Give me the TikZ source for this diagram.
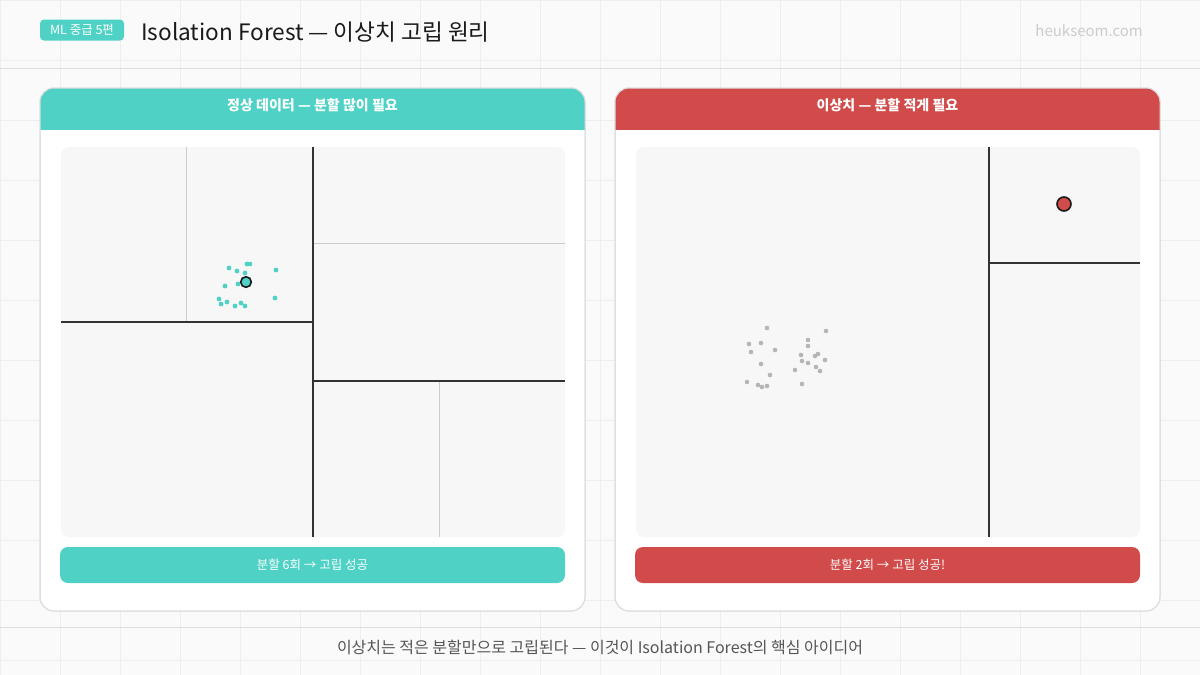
\documentclass[tikz,border=0pt]{standalone}
\usepackage{fontspec}
\setmainfont{Noto Sans CJK KR}
\definecolor{bgc}{HTML}{FAFAFA}
\definecolor{gridc}{HTML}{EEEEEE}
\definecolor{sepc}{HTML}{DDDDDD}
\definecolor{tealc}{HTML}{4FD1C5}
\definecolor{redc}{HTML}{D14B4B}
\definecolor{plotc}{HTML}{F7F7F8}
\definecolor{darkc}{HTML}{333333}
\definecolor{lightc}{HTML}{CCCCCC}
\definecolor{ptgrey}{HTML}{B5B5B5}
\definecolor{inkc}{HTML}{1A1A1A}
\definecolor{footc}{HTML}{555555}
\tikzset{
  panel/.style={draw=sepc, line width=1pt, fill=white, rounded corners=14pt},
  hardsplit/.style={draw=darkc, line width=1.5pt},
  softsplit/.style={draw=lightc, line width=1pt},
  bar/.style={rounded corners=8pt},
  htext/.style={text=white, font=\fontsize{14}{16}\selectfont\bfseries},
  btext/.style={text=white, font=\fontsize{12.5}{15}\selectfont},
  tdot/.style={fill=tealc},
  gdot/.style={fill=ptgrey},
}
\begin{document}
\begin{tikzpicture}[x=1pt,y=-1pt]
\useasboundingbox (0,0) rectangle (1200,675);
% background + grid
\fill[bgc] (0,0) rectangle (1200,675);
\foreach \gx in {0,60,...,1200} \draw[gridc, line width=0.8pt] (\gx,0) -- (\gx,675);
\foreach \gy in {0,60,...,660} \draw[gridc, line width=0.8pt] (0,\gy) -- (1200,\gy);
\draw[sepc, line width=1pt] (0,68) -- (1200,68);
\draw[sepc, line width=1pt] (0,627) -- (1200,627);
% header
\node[fill=tealc, rounded corners=4pt, text=white, font=\fontsize{12.5}{14}\selectfont, minimum width=84pt, minimum height=21pt, inner sep=0pt] (badge) at (82,30) {ML 중급 5편};
\node[anchor=west, text=inkc, font=\fontsize{22.6}{26}\selectfont, inner sep=0pt] (title) at (141,32) {Isolation Forest — 이상치 고립 원리};
\node[anchor=east, text=lightc, font=\fontsize{15}{18}\selectfont, inner sep=0pt] (site) at (1143,31) {heukseom.com};
% ---------- left panel ----------
\draw[panel] (40,88) rectangle (585,611);
\begin{scope}
\clip[rounded corners=14pt] (40,88) rectangle (585,611);
\fill[tealc] (40,88) rectangle (585,130);
\end{scope}
\draw[panel, fill=none] (40,88) rectangle (585,611);
\node[htext] (lhead) at (312.5,105) {정상 데이터 — 분할 많이 필요};
\fill[plotc, rounded corners=8pt] (61,147) rectangle (565,537);
\draw[softsplit] (186,147) -- (186,322);
\draw[softsplit] (313,243) -- (565,243);
\draw[softsplit] (439,381) -- (439,537);
\draw[hardsplit] (313,147) -- (313,537);
\draw[hardsplit] (61,322) -- (313,322);
\draw[hardsplit] (313,381) -- (565,381);
\foreach \px/\py in {229/268,237/271,247/264,250/264,245/273,276/270,225/286,238/284,219/299,221/304,227/302,235/306,241/303,245/306,275/298}
  \fill[tdot] (\px,\py) circle (2.4pt);
\draw[fill=tealc, draw=inkc, line width=1.6pt] (246,282) circle (5.3pt);
\node[fill=tealc, bar, minimum width=505pt, minimum height=36pt, inner sep=0pt] (lbar) at (312.5,565) {};
\node[btext] (lbartext) at (lbar) {분할 6회 → 고립 성공};
% ---------- right panel ----------
\draw[panel] (615,88) rectangle (1160,611);
\begin{scope}
\clip[rounded corners=14pt] (615,88) rectangle (1160,611);
\fill[redc] (615,88) rectangle (1160,130);
\end{scope}
\draw[panel, fill=none] (615,88) rectangle (1160,611);
\node[htext] (rhead) at (887.5,105) {이상치 — 분할 적게 필요};
\fill[plotc, rounded corners=8pt] (636,147) rectangle (1140,537);
\draw[hardsplit] (989,147) -- (989,537);
\draw[hardsplit] (989,263) -- (1140,263);
\foreach \px/\py in {767/328,749/344,761/343,751/352,775/350,761/364,770/375,747/382,758/385,762/387,767/386,826/331,808/340,808/346,801/355,802/361,808/363,815/356,818/354,825/360,816/367,820/371,795/370,802/384}
  \fill[gdot] (\px,\py) circle (2.3pt);
\draw[fill=redc, draw=inkc, line width=1.6pt] (1064,204) circle (7pt);
\node[fill=redc, bar, minimum width=505pt, minimum height=36pt, inner sep=0pt] (rbar) at (887.5,565) {};
\node[btext] (rbartext) at (rbar) {분할 2회 → 고립 성공!};
% footer
\node[text=footc, font=\fontsize{16}{19}\selectfont] (foot) at (600,647) {이상치는 적은 분할만으로 고립된다 — 이것이 Isolation Forest의 핵심 아이디어};
\end{tikzpicture}
\end{document}
